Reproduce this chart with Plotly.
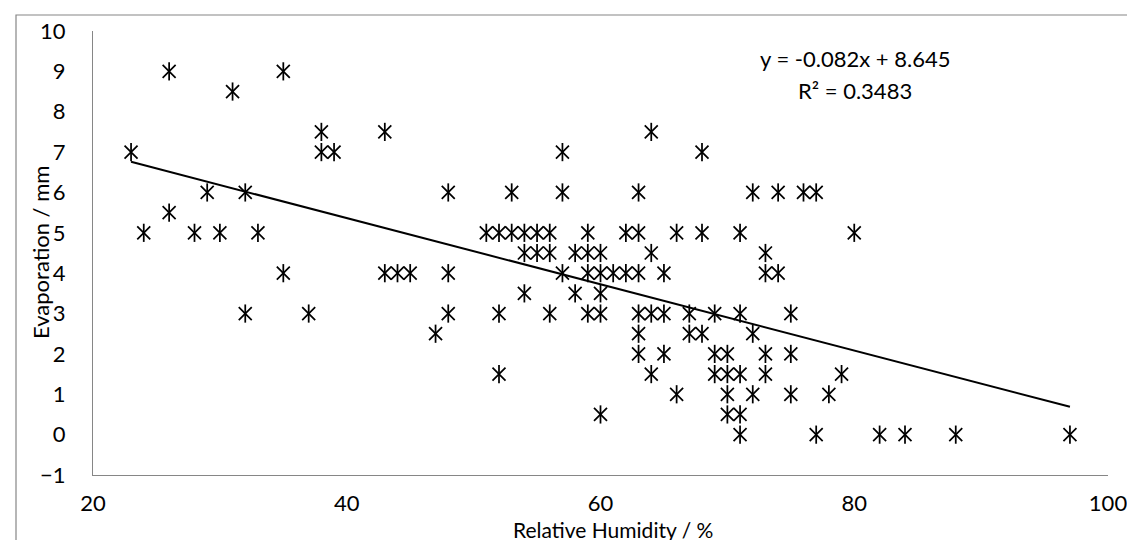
import plotly.graph_objects as go

# ---- data ----
humidity = [23, 24, 26, 26, 28, 29, 30, 31, 32, 32, 33, 35, 35, 37, 38, 38, 39,
            43, 43, 44, 45, 47, 48, 48, 48,
            51, 52, 53, 54, 55, 56, 52, 52, 53, 54, 55, 56, 54, 56,
            57, 57, 57, 58, 58, 59, 59, 59, 59, 60, 60, 60, 60, 60, 61, 62, 62,
            63, 63, 63, 63, 63, 63, 64, 64, 64, 64, 65, 65, 65, 66, 66, 67, 67,
            68, 68, 68, 69, 69, 69, 70, 70, 70, 70, 71, 71, 71, 71, 71,
            72, 72, 72, 73, 73, 73, 73, 74, 74, 75, 75, 75, 76, 77, 77, 78, 79,
            80, 82, 84, 88, 97]
evaporation = [7, 5, 9, 5.5, 5, 6, 5, 8.5, 6, 3, 5, 9, 4, 3, 7.5, 7, 7,
               7.5, 4, 4, 4, 2.5, 6, 4, 3,
               5, 5, 5, 5, 5, 5, 3, 1.5, 6, 4.5, 4.5, 4.5, 3.5, 3,
               7, 6, 4, 4.5, 3.5, 5, 4.5, 4, 3, 4.5, 4, 3.5, 3, 0.5, 4, 4, 5,
               5, 4, 6, 3, 2.5, 2, 7.5, 4.5, 3, 1.5, 4, 3, 2, 5, 1, 3, 2.5,
               7, 5, 2.5, 3, 2, 1.5, 2, 1.5, 1, 0.5, 5, 3, 1.5, 0.5, 0,
               6, 2.5, 1, 4.5, 4, 2, 1.5, 6, 4, 3, 2, 1, 6, 6, 0, 1, 1.5,
               5, 0, 0, 0, 0]
x_ticks = [20, 40, 60, 80, 100]
y_ticks = list(range(-1, 11))
x_title = "Relative Humidity / %"
y_title = "Evaporation / mm"
slope = -0.082
intercept = 8.645
r_squared = 0.3483

# ---- layout geometry (pixels) ----
W, H = 1135, 540
L, R, T, B = 85, 35, 23, 73
PW, PH = W - L - R, H - T - B


def px_x(p):
    return (p - L) / PW


def px_y(p):
    return (H - B - p) / PH


FONT = "Lato, Carlito, Calibri, sans-serif"
AXIS_GREY = "#868686"

fig = go.Figure()

xmin, xmax = min(humidity), max(humidity)
fig.add_trace(go.Scatter(
    x=[xmin, xmax], y=[slope * xmin + intercept, slope * xmax + intercept],
    mode="lines", line=dict(color="black", width=2), showlegend=False,
    hoverinfo="skip"))

for sym in ["x-thin-open", "line-ns-open"]:
    fig.add_trace(go.Scatter(
        x=humidity, y=evaporation, mode="markers",
        marker=dict(symbol=sym, size=13, color="black",
                    line=dict(width=1.75, color="black")),
        showlegend=False, hoverinfo="skip"))

fig.update_layout(
    width=W, height=H,
    margin=dict(l=L, r=R, t=T, b=B, autoexpand=False),
    paper_bgcolor="white", plot_bgcolor="white",
    font=dict(family=FONT, size=22, color="black"),
    xaxis=dict(range=[20, 100], tickvals=x_ticks, showgrid=False,
               zeroline=False, showline=True, linecolor=AXIS_GREY,
               linewidth=1.2, ticks="", ticklabelstandoff=8,
               tickfont=dict(family=FONT, size=22, color="black")),
    yaxis=dict(range=[-1, 10], tickvals=y_ticks, showgrid=False,
               zeroline=False, showline=True, linecolor=AXIS_GREY,
               linewidth=1.2, ticks="", ticklabelstandoff=22,
               tickfont=dict(family=FONT, size=22, color="black")),
    shapes=[dict(type="rect", xref="paper", yref="paper",
                 x0=px_x(8), x1=px_x(W + 20), y0=px_y(H + 20), y1=px_y(7),
                 line=dict(color=AXIS_GREY, width=1.2), fillcolor="rgba(0,0,0,0)",
                 layer="below")],
    annotations=[
        dict(text=x_title, xref="paper", yref="paper", x=px_x(605), y=px_y(521),
             xanchor="center", yanchor="middle", showarrow=False,
             font=dict(family=FONT, size=21)),
        dict(text=y_title, xref="paper", yref="paper", x=px_x(32), y=0.5,
             xanchor="center", yanchor="middle", showarrow=False, textangle=-90,
             font=dict(family=FONT, size=22)),
        dict(text=f"y = {slope}x + {intercept}", xref="paper", yref="paper",
             x=px_x(847), y=px_y(50), xanchor="center", yanchor="middle",
             showarrow=False, font=dict(family=FONT, size=22)),
        dict(text=f"R² = {r_squared}", xref="paper", yref="paper",
             x=px_x(847), y=px_y(83), xanchor="center", yanchor="middle",
             showarrow=False, font=dict(family=FONT, size=22)),
    ],
)

fig.write_html("out.html")
